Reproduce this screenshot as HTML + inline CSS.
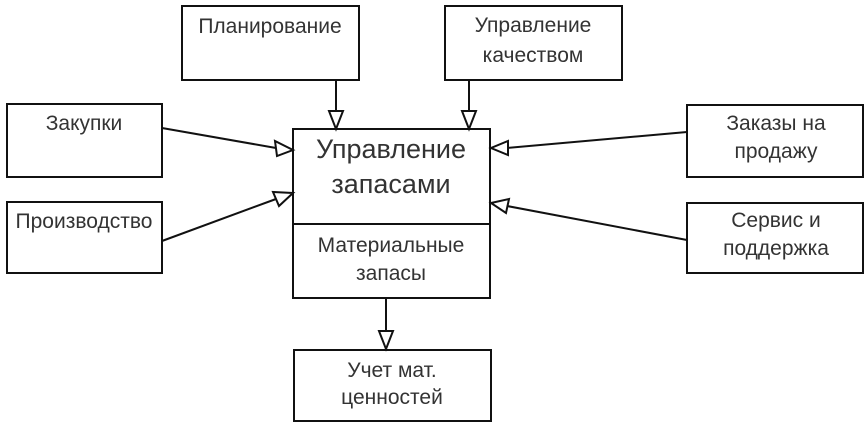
<!DOCTYPE html>
<html><head><meta charset="utf-8"><style>
html,body{margin:0;padding:0;background:#fff;}
svg{display:block;}
text{font-family:"Liberation Sans",sans-serif;fill:#333;}
</style></head><body>
<svg width="867" height="438" viewBox="0 0 867 438" xmlns="http://www.w3.org/2000/svg">
<g fill="#fff" stroke="#111" stroke-width="2">
<rect x="182" y="6" width="177" height="74"/>
<rect x="445" y="6" width="177" height="74"/>
<rect x="7" y="104" width="155" height="73"/>
<rect x="7" y="202" width="155" height="71"/>
<rect x="687" y="105" width="176" height="72"/>
<rect x="687" y="203" width="176" height="70"/>
<rect x="293" y="129" width="197" height="169"/>
<line x1="293" y1="224" x2="490" y2="224"/>
<rect x="294" y="350" width="197" height="71"/>
</g>
<g stroke="#111" stroke-width="2" fill="none">
<line x1="336" y1="80" x2="336" y2="111"/>
<line x1="469" y1="80" x2="469" y2="111"/>
<line x1="386" y1="298" x2="386" y2="330"/>
<line x1="162" y1="128" x2="276" y2="148"/>
<line x1="162" y1="241" x2="276" y2="199"/>
<line x1="687" y1="132" x2="507" y2="148"/>
<line x1="687" y1="240" x2="507" y2="206"/>
</g>
<g fill="#fff" stroke="#111" stroke-width="2">
<polygon points="329,111 343,111 336,129"/>
<polygon points="462,111 476,111 469,129"/>
<polygon points="379,331 393,331 386,349"/>
<polygon points="275,141 277,156 293,150"/>
<polygon points="273,192 279,206 293,193"/>
<polygon points="508,141 508,155 491,148"/>
<polygon points="509,199 506,213 491,203"/>
</g>
<g font-size="21" text-anchor="middle">
<text x="270" y="33">Планирование</text>
<text x="533" y="32">Управление</text>
<text x="533" y="62">качеством</text>
<text x="84" y="130">Закупки</text>
<text x="84" y="228">Производство</text>
<text x="776" y="130">Заказы на</text>
<text x="776" y="158">продажу</text>
<text x="776" y="227">Сервис и</text>
<text x="776" y="255">поддержка</text>
<text x="391" y="252">Материальные</text>
<text x="391" y="280">запасы</text>
<text x="392" y="377">Учет мат.</text>
<text x="392" y="404">ценностей</text>
</g>
<g font-size="27" text-anchor="middle">
<text x="391" y="158">Управление</text>
<text x="391" y="193">запасами</text>
</g>
</svg>
</body></html>
